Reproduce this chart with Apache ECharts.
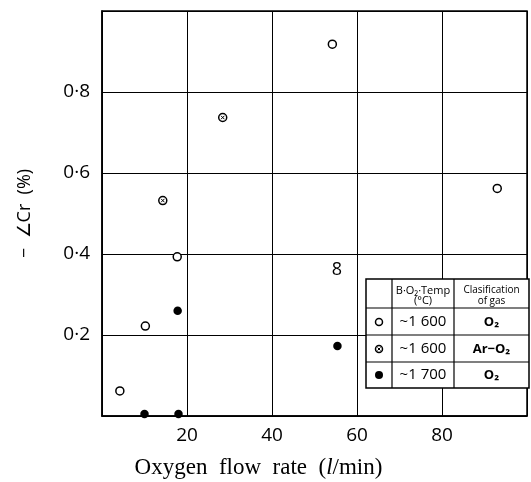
<!DOCTYPE html>
<html><head><meta charset="utf-8">
<script src="https://cdn.jsdelivr.net/npm/echarts@6/dist/echarts.min.js"></script>
<style>html,body{margin:0;padding:0;background:#fff}#c{width:531px;height:482px}</style>
</head><body><div id="c"></div>
<script>
// Data
const xTickLabels = [20, 40, 60, 80];
const yTickLabels = [0.2, 0.4, 0.6, 0.8];
const openX = [4.2, 10.2, 17.7, 54.2, 93.0];
const openY = [0.062, 0.222, 0.393, 0.918, 0.562];
const crossX = [14.3, 28.4];
const crossY = [0.532, 0.737];
const filledX = [10.0, 17.8, 18.0, 55.4];
const filledY = [0.005, 0.26, 0.005, 0.173];
const legendTemps = ['~1 600', '~1 600', '~1 700'];
const legendGas = ['O₂', 'Ar−O₂', 'O₂'];

const zip = (xs, ys) => xs.map((x, i) => [x, ys[i]]);
const chart = echarts.init(document.getElementById('c'));
const sans = 'Open Sans';
const serif = 'Liberation Serif';

// legend table graphic
const tL = 366, tR = 529, tT = 279, tB = 388, c1 = 392, c2 = 454;
const rows = [308, 335, 362];
const g = [];
g.push({type:'rect', shape:{x:tL, y:tT, width:tR-tL, height:tB-tT}, style:{fill:'#fff', stroke:'#000', lineWidth:1.5}, z:100});
[c1, c2].forEach(x => g.push({type:'line', shape:{x1:x, y1:tT, x2:x, y2:tB}, style:{stroke:'#000', lineWidth:1.2}, z:101}));
rows.forEach(y => g.push({type:'line', shape:{x1:tL, y1:y, x2:tR, y2:y}, style:{stroke:'#000', lineWidth:1.2}, z:101}));
g.push({type:'text', x:(c1+c2)/2, y:291, style:{text:'B·O₂·Temp', font:'11px "'+sans+'"', fill:'#000', align:'center', verticalAlign:'middle'}, z:102});
g.push({type:'text', x:(c1+c2)/2, y:301, style:{text:'(°C)', font:'11px "'+sans+'"', fill:'#000', align:'center', verticalAlign:'middle'}, z:102});
g.push({type:'text', x:(c2+tR)/2, y:290, style:{text:'Clasification', font:'10px "'+sans+'"', fill:'#000', align:'center', verticalAlign:'middle'}, z:102});
g.push({type:'text', x:(c2+tR)/2, y:301, style:{text:'of gas', font:'10px "'+sans+'"', fill:'#000', align:'center', verticalAlign:'middle'}, z:102});
const rowC = [322, 349, 375];
rowC.forEach((y, i) => {
  g.push({type:'text', x:(c1+c2)/2, y:y, style:{text:legendTemps[i], font:'15px "'+sans+'"', fill:'#000', align:'center', verticalAlign:'middle'}, z:102});
  g.push({type:'text', x:(c2+tR)/2, y:y, style:{text:legendGas[i], font:'bold 13px "'+sans+'"', fill:'#000', align:'center', verticalAlign:'middle'}, z:102});
});
const sx = (tL + c1) / 2;
g.push({type:'circle', shape:{cx:sx, cy:rowC[0], r:3.5}, style:{fill:'#fff', stroke:'#000', lineWidth:1.5}, z:102});
g.push({type:'circle', shape:{cx:sx, cy:rowC[1], r:3.5}, style:{fill:'#fff', stroke:'#000', lineWidth:1.5}, z:102});
g.push({type:'line', shape:{x1:sx-1.5, y1:rowC[1]-1.5, x2:sx+1.5, y2:rowC[1]+1.5}, style:{stroke:'#000', lineWidth:1}, z:103});
g.push({type:'line', shape:{x1:sx-1.5, y1:rowC[1]+1.5, x2:sx+1.5, y2:rowC[1]-1.5}, style:{stroke:'#000', lineWidth:1}, z:103});
g.push({type:'circle', shape:{cx:sx, cy:rowC[2], r:4}, style:{fill:'#000'}, z:102});
// stray "8" label in the plot
g.push({type:'text', x:337, y:270, style:{text:'8', font:'18px "'+sans+'"', fill:'#000', align:'center', verticalAlign:'middle'}, z:50});

const option = {
  backgroundColor: '#fff',
  animation: false,
  grid: {left: 102, right: 4, top: 11, bottom: 66, outerBoundsMode: 'none', containLabel: false,
    show: true, borderColor: '#000', borderWidth: 1.5, backgroundColor:'transparent'},
  xAxis: {
    type: 'value', min: 0, max: 100, interval: 20,
    name: '{a|Oxygen  flow  rate  (}{b|l}{a|/min)}', nameLocation: 'middle', nameGap: 40,
    nameTextStyle: {padding: [0, 112, 0, 0], rich: {
      a: {fontFamily: serif, fontSize: 23, color: '#000'},
      b: {fontFamily: serif, fontSize: 23, color: '#000', fontStyle: 'italic'}}},
    axisLine: {show: true, lineStyle: {color: '#000', width: 1.5}},
    axisTick: {show: false},
    splitLine: {show: true, lineStyle: {color: '#000', width: 1}},
    axisLabel: {fontFamily: sans, fontSize: 19, color: '#000', margin: 10,
      formatter: v => xTickLabels.indexOf(v) >= 0 ? String(v) : ''}
  },
  yAxis: {
    type: 'value', min: 0, max: 1, interval: 0.2,
    name: '−  ∠Cr  (%)', nameLocation: 'middle', nameGap: 68, nameRotate: 90,
    nameTextStyle: {fontFamily: sans, fontSize: 18, color: '#000'},
    axisLine: {show: true, lineStyle: {color: '#000', width: 1.5}},
    axisTick: {show: false},
    splitLine: {show: true, lineStyle: {color: '#000', width: 1}},
    axisLabel: {fontFamily: sans, fontSize: 19, color: '#000', margin: 12,
      formatter: v => { const f = yTickLabels.find(t => Math.abs(t - v) < 1e-9); return f === undefined ? '' : f.toFixed(1).replace('.', '·'); }}
  },
  graphic: g,
  series: [
    {type: 'scatter', data: zip(openX, openY), symbol: 'circle', symbolSize: 8,
      itemStyle: {color: '#fff', borderColor: '#000', borderWidth: 1.5, opacity: 1}, z: 10},
    {type: 'scatter', data: zip(crossX, crossY), symbol: 'circle', symbolSize: 8,
      itemStyle: {color: '#fff', borderColor: '#000', borderWidth: 1.5, opacity: 1}, z: 10},
    {type: 'scatter', data: zip(crossX, crossY), symbol: 'path://M0,0L10,10M10,0L0,10', symbolSize: 3.5,
      itemStyle: {color: 'none', borderColor: '#000', borderWidth: 1, opacity: 1}, z: 11},
    {type: 'scatter', data: zip(filledX, filledY), symbol: 'circle', symbolSize: 8.5,
      itemStyle: {color: '#000', opacity: 1}, z: 10}
  ]
};
chart.setOption(option);
</script></body></html>
